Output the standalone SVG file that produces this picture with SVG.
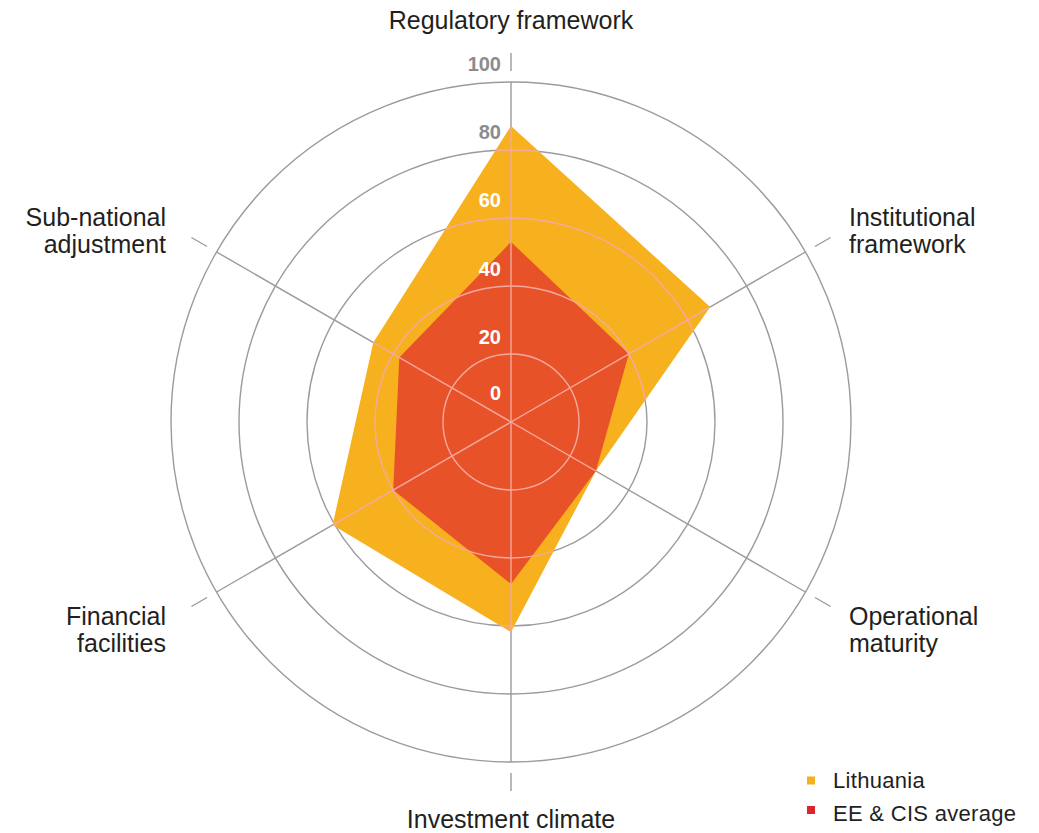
<svg xmlns="http://www.w3.org/2000/svg" width="1039" height="833" viewBox="0 0 1039 833">
<style>
.grid{fill:none;stroke:#9b9b9b;stroke-width:1.4}
.pink{fill:none;stroke:#f4a9a0;stroke-width:1.4}
.lbl{font-family:"Liberation Sans",Arial,sans-serif;font-size:25px;fill:#231f20}
.sc{font-family:"Liberation Sans",Arial,sans-serif;font-size:20px;font-weight:bold;text-anchor:end}
.leg{font-family:"Liberation Sans",Arial,sans-serif;font-size:22px;letter-spacing:0.3px;fill:#231f20}
</style>
<defs>
<clipPath id="clipL"><polygon points="511,126 710.2,307 595.9,471 511,632 332.6,525 373.3,342.5"/></clipPath>
<g id="gridShapes">
<circle cx="511" cy="422" r="68"/>
<circle cx="511" cy="422" r="136"/>
<circle cx="511" cy="422" r="204"/>
<circle cx="511" cy="422" r="272"/>
<circle cx="511" cy="422" r="340"/>
<line x1="511" y1="422" x2="511" y2="82"/>
<line x1="511" y1="422" x2="805.4" y2="252"/>
<line x1="511" y1="422" x2="805.4" y2="592"/>
<line x1="511" y1="422" x2="511" y2="762"/>
<line x1="511" y1="422" x2="216.6" y2="592"/>
<line x1="511" y1="422" x2="216.6" y2="252"/>
</g>
</defs>
<g id="grid" class="grid">
<use href="#gridShapes"/>
<line x1="511" y1="71" x2="511" y2="53"/>
<line x1="815" y1="246.5" x2="830.6" y2="237.5"/>
<line x1="815" y1="597.5" x2="830.6" y2="606.5"/>
<line x1="511" y1="773" x2="511" y2="791"/>
<line x1="207" y1="597.5" x2="191.4" y2="606.5"/>
<line x1="207" y1="246.5" x2="191.4" y2="237.5"/>
</g>
<g id="lithuania"><polygon points="511,126 710.2,307 595.9,471 511,632 332.6,525 373.3,342.5" fill="#f7b11e"/></g>
<g id="ee-cis"><polygon points="511,242 628.8,354 595.9,471 511,584 393.2,490 399.3,357.5" fill="#e85228"/></g>
<g id="grid-over" class="pink" clip-path="url(#clipL)"><use href="#gridShapes"/></g>
<g id="scale">
<text class="sc" x="501" y="71" fill="#8c8c8c">100</text>
<text class="sc" x="501" y="139" fill="#8c8c8c">80</text>
<text class="sc" x="501" y="207" fill="#ffffff">60</text>
<text class="sc" x="501" y="276" fill="#ffffff">40</text>
<text class="sc" x="501" y="344" fill="#ffffff">20</text>
<text class="sc" x="501" y="400" fill="#ffffff">0</text>
</g>
<g id="label-regulatory"><text class="lbl" x="511" y="29" text-anchor="middle">Regulatory framework</text></g>
<g id="label-institutional"><text class="lbl" x="849" y="226">Institutional</text><text class="lbl" x="849" y="253">framework</text></g>
<g id="label-operational"><text class="lbl" x="849" y="625">Operational</text><text class="lbl" x="849" y="652">maturity</text></g>
<g id="label-investment"><text class="lbl" x="511" y="828" text-anchor="middle">Investment climate</text></g>
<g id="label-financial"><text class="lbl" x="166" y="625" text-anchor="end">Financial</text><text class="lbl" x="166" y="652" text-anchor="end">facilities</text></g>
<g id="label-subnational"><text class="lbl" x="166" y="226" text-anchor="end">Sub-national</text><text class="lbl" x="166" y="253" text-anchor="end">adjustment</text></g>
<g id="legend">
<rect x="807" y="776.5" width="8" height="8" fill="#f6b01d"/>
<text class="leg" x="833" y="788">Lithuania</text>
<rect x="807" y="806" width="8" height="8" fill="#d9262e"/>
<text class="leg" x="833" y="821">EE &amp; CIS average</text>
</g>
</svg>
